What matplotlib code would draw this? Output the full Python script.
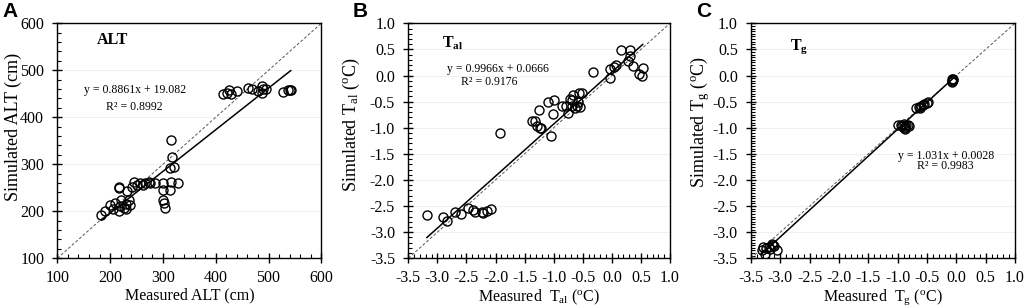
import matplotlib
matplotlib.use("Agg")
import matplotlib.pyplot as plt
from matplotlib.ticker import MultipleLocator

plt.rcParams["font.family"] = ["Liberation Serif", "DejaVu Serif"]
plt.rcParams["mathtext.fontset"] = "custom"
plt.rcParams["mathtext.rm"] = "Liberation Serif"
plt.rcParams["mathtext.it"] = "Liberation Serif:italic"
plt.rcParams["mathtext.bf"] = "Liberation Serif:bold"

# Panel A: active layer thickness (cm)
alt_measured = [183, 190, 200, 206, 209, 216, 219, 220, 226, 230, 235, 238, 230,
                217, 217, 231, 241, 246, 250, 257, 262, 266, 276, 285, 273,
                300, 301, 314, 316, 328, 300, 302, 303, 314, 321, 317, 315,
                413, 422, 425, 428, 440, 462, 468, 480, 487, 488, 490, 495,
                527, 536, 540, 542]
alt_simulated = [192, 200, 213, 204, 218, 201, 211, 224, 206, 216, 223, 213, 204,
                 249, 252, 244, 252, 263, 256, 260, 256, 261, 261, 261, 263,
                 261, 245, 245, 263, 260, 224, 217, 206, 292, 294, 316, 351,
                 450, 452, 457, 449, 455, 462, 460, 455, 466, 452, 460, 461,
                 454, 458, 458, 458]
alt_fit = (0.8861, 19.082)

# Panel B: T_al (degC)
tal_measured = [-3.18, -2.90, -2.84, -2.70, -2.60, -2.47, -2.38, -2.35, -2.24,
                -2.21, -2.15, -2.08, -1.93, -1.38, -1.32, -1.28, -1.24, -1.21,
                -1.25, -1.09, -0.99, -1.02, -1.05, -0.85, -0.78, -0.75, -0.72,
                -0.68, -0.66, -0.63, -0.60, -0.59, -0.56, -0.55, -0.51, -0.69,
                -0.32, -0.04, -0.03, 0.03, 0.08, 0.15, 0.27, 0.31, 0.32, 0.36,
                0.46, 0.53, 0.52]
tal_simulated = [-2.67, -2.71, -2.78, -2.61, -2.66, -2.54, -2.57, -2.62, -2.61,
                 -2.64, -2.59, -2.56, -1.11, -0.88, -0.88, -0.97, -1.01, -1.01,
                 -0.66, -0.50, -0.47, -0.74, -1.15, -0.58, -0.58, -0.71, -0.45,
                 -0.58, -0.37, -0.63, -0.58, -0.50, -0.33, -0.61, -0.34, -0.47,
                 0.06, 0.13, -0.04, 0.17, 0.20, 0.49, 0.27, 0.37, 0.49, 0.18,
                 0.03, 0.14, -0.01]
tal_fit = (0.9966, 0.0666)

# Panel C: T_g (degC)
tg_measured = [-3.32, -3.30, -3.26, -3.24, -3.20, -3.18, -3.15, -3.12, -3.10, -3.06,
               -1.00, -0.95, -0.92, -0.90, -0.88, -0.85, -0.82, -0.80, -0.90, -0.87,
               -0.68, -0.63, -0.60, -0.57, -0.55, -0.50, -0.48, -0.62,
               -0.08, -0.07, -0.06, -0.05, -0.07]
tg_simulated = [-3.34, -3.28, -3.42, -3.30, -3.28, -3.33, -3.22, -3.24, -3.27, -3.34,
                -0.95, -0.95, -0.97, -1.00, -0.98, -0.95, -0.95, -0.97, -0.93, -1.02,
                -0.62, -0.60, -0.58, -0.57, -0.55, -0.52, -0.50, -0.63,
                -0.10, -0.07, -0.06, -0.09, -0.12]
tg_fit = (1.031, 0.0028)

panels = [
    dict(letter="A", x=alt_measured, y=alt_simulated, fit=alt_fit,
         lim=(100, 600), major=100, xminor=20, yminor=20,
         xlabel="Measured ALT (cm)", ylabel="Simulated ALT (cm)",
         ylab_xy=(-0.133, 0.56),
         name="ALT", name_pos=(175, 565),
         eq="y = 0.8861x + 19.082", eq_pos=(247, 457),
         r2="R² = 0.8992", r2_pos=(245, 421), fmt="{:.0f}"),
    dict(letter="B", x=tal_measured, y=tal_simulated, fit=tal_fit,
         lim=(-3.5, 1.0), major=0.5, xminor=0.1, yminor=0.1,
         xlabel=r"Measured  T$_{\rm al}$ ($^{\rm o}$C)",
         ylabel=r"Simulated T$_{\rm al}$ ($^{\rm o}$C)",
         ylab_xy=(-0.176, 0.57),
         name=r"$\mathbf{T_{al}}$", name_pos=(-2.92, 0.62),
         eq="y = 0.9966x + 0.0666", eq_pos=(-1.95, 0.12),
         r2="R² = 0.9176", r2_pos=(-2.1, -0.13), fmt="{:.1f}"),
    dict(letter="C", x=tg_measured, y=tg_simulated, fit=tg_fit,
         lim=(-3.5, 1.0), major=0.5, xminor=0.1, yminor=0.05,
         xlabel=r"Measured  T$_{\rm g}$ ($^{\rm o}$C)",
         ylabel=r"Simulated T$_{\rm g}$ ($^{\rm o}$C)",
         ylab_xy=(-0.148, 0.58),
         name=r"$\mathbf{T_{g}}$", name_pos=(-2.83, 0.55),
         eq="y = 1.031x + 0.0028", eq_pos=(-0.18, -1.54),
         r2="R² = 0.9983", r2_pos=(-0.19, -1.74), fmt="{:.1f}"),
]

fig = plt.figure(figsize=(10.24, 3.08), dpi=100)
lefts = [0.056, 0.3987, 0.7334]
widths = [0.2578, 0.2556, 0.2578]

for p, left, w in zip(panels, lefts, widths):
    ax = fig.add_axes([left, 0.1614, w, 0.763])
    lo, hi = p["lim"]

    # 1:1 line
    ax.plot([lo, hi], [lo, hi], ls=(0, (3, 2)), color="#555555", lw=0.7, zorder=1)

    # regression line over the measured range
    a, b = p["fit"]
    x0, x1 = min(p["x"]), max(p["x"])
    ax.plot([x0, x1], [a * x0 + b, a * x1 + b], color="black", lw=1.1, zorder=2)

    ax.plot(p["x"], p["y"], "o", mfc="none", mec="black", mew=1.0, ms=6.5, zorder=3)

    ax.xaxis.set_major_locator(MultipleLocator(p["major"]))
    ax.yaxis.set_major_locator(MultipleLocator(p["major"]))
    ax.xaxis.set_minor_locator(MultipleLocator(p["xminor"]))
    ax.yaxis.set_minor_locator(MultipleLocator(p["yminor"]))
    ax.set_xlim(lo, hi)
    ax.set_ylim(lo, hi)
    ax.xaxis.set_major_formatter(lambda v, pos, f=p["fmt"]: f.format(v))
    ax.yaxis.set_major_formatter(lambda v, pos, f=p["fmt"]: f.format(v))

    ax.tick_params(which="major", direction="inout", length=7, width=1.0,
                   labelsize=11.5, pad=5)
    ax.tick_params(axis="y", which="major", pad=6)
    ax.tick_params(which="minor", direction="in", length=3, width=0.8)
    ax.grid(axis="y", which="major", color="#eeeeee", lw=0.6, zorder=0)
    ax.set_axisbelow(True)
    for s in ax.spines.values():
        s.set_linewidth(1.0)

    ax.set_xlabel(p["xlabel"], fontsize=11.5, labelpad=1)
    ax.set_ylabel(p["ylabel"], fontsize=13)
    ax.yaxis.set_label_coords(*p["ylab_xy"])

    ax.text(*p["name_pos"], p["name"], fontsize=11.5, fontweight="bold",
            ha="left", va="center")
    ax.text(*p["eq_pos"], p["eq"], fontsize=8.5, ha="center", va="center")
    ax.text(*p["r2_pos"], p["r2"], fontsize=8.5, ha="center", va="center")

    fig.text(left - 0.054, 0.995, p["letter"], fontsize=15, fontweight="bold",
             family=["Liberation Sans", "DejaVu Sans"], ha="left", va="top")

fig.savefig("out.png", dpi=100)
